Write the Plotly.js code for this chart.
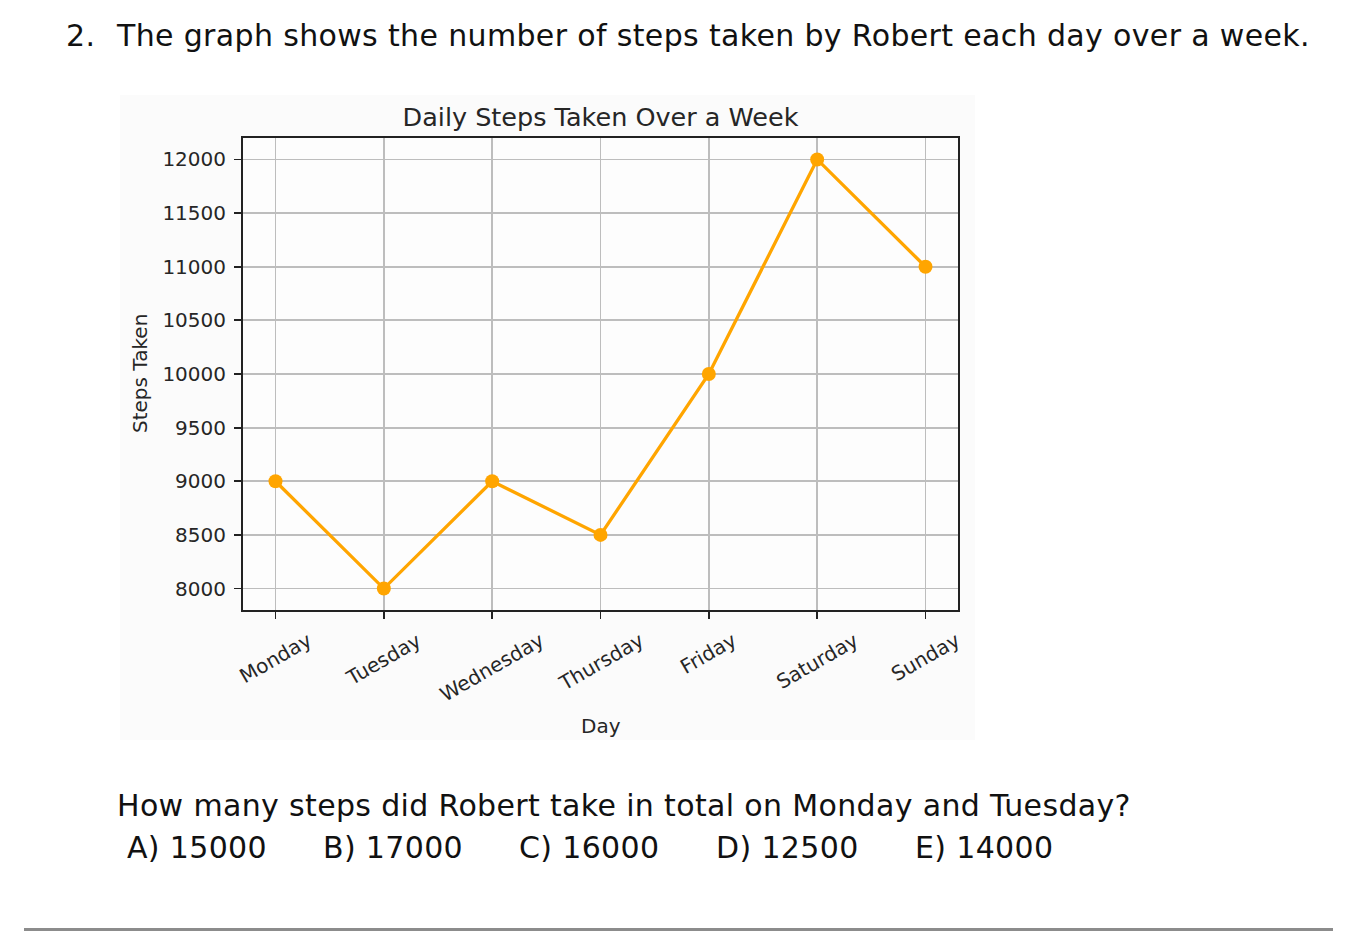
<!DOCTYPE html>
<html>
<head>
<meta charset="utf-8">
<script src="https://cdn.plot.ly/plotly-3.0.1.min.js"></script>
<style>
  html, body { margin: 0; padding: 0; background: #fff; }
  body { width: 1357px; height: 947px; position: relative; overflow: hidden;
         font-family: "DejaVu Sans", Verdana, sans-serif; color: #111; }
  .t { position: absolute; white-space: nowrap; line-height: 30px; font-size: 30px; letter-spacing: 0.35px; }
  #chart { position: absolute; left: 120px; top: 95px; width: 855px; height: 645px; }
  #rule { position: absolute; left: 24px; top: 928px; width: 1309px; height: 3px; background: #8c8c8c; }
</style>
</head>
<body>
<div class="t" style="left:66px; top:21px;">2.</div>
<div class="t" style="left:117px; top:21px;">The graph shows the number of steps taken by Robert each day over a week.</div>

<div id="chart"></div>

<div class="t" style="left:117px; top:791px;">How many steps did Robert take in total on Monday and Tuesday?</div>
<div id="answers"></div>
<div id="rule"></div>

<script>
// data
const days = ['Monday', 'Tuesday', 'Wednesday', 'Thursday', 'Friday', 'Saturday', 'Sunday'];
const steps = [9000, 8000, 9000, 8500, 10000, 12000, 11000];
const yTicks = [8000, 8500, 9000, 9500, 10000, 10500, 11000, 11500, 12000];
const choices = ['A) 15000', 'B) 17000', 'C) 16000', 'D) 12500', 'E) 14000'];
const choiceX = [127, 323, 519, 716, 915];

const ans = document.getElementById('answers');
choices.forEach((c, i) => {
    const d = document.createElement('div');
    d.className = 't';
    d.style.left = choiceX[i] + 'px';
    d.style.top = '833px';
    d.textContent = c;
    ans.appendChild(d);
});

const font = 'DejaVu Sans, sans-serif';
const ink = '#262626';

// rotated day labels, centred under each tick like matplotlib does
const dayLabels = days.map((d) => ({
    x: d, xref: 'x', y: 0, yref: 'paper', yshift: -15,
    xanchor: 'center', yanchor: 'top',
    text: d, textangle: -30, showarrow: false,
    font: { family: font, size: 20, color: ink },
}));

const layout = {
    width: 855, height: 645,
    margin: { l: 123, r: 17, t: 43, b: 130, pad: 0 },
    paper_bgcolor: '#fbfbfb',
    plot_bgcolor: '#fdfdfd',
    showlegend: false,
    title: {
        text: 'Daily Steps Taken Over a Week',
        font: { family: font, size: 25.5, color: ink },
        x: 0.5, xref: 'paper', xanchor: 'center',
        y: 1 - 22 / 645, yref: 'container', yanchor: 'middle',
    },
    xaxis: {
        type: 'category', range: [-0.3, 6.3],
        showgrid: true, gridcolor: '#bdbdbd', gridwidth: 1.8,
        showline: true, linecolor: '#222', linewidth: 2, mirror: true,
        ticks: 'outside', ticklen: 7, tickwidth: 1.8, tickcolor: '#222',
        showticklabels: false, zeroline: false,
    },
    yaxis: {
        range: [7800, 12200], tickvals: yTicks, ticktext: yTicks.map(String),
        showgrid: true, gridcolor: '#bdbdbd', gridwidth: 1.8,
        showline: true, linecolor: '#222', linewidth: 2, mirror: true,
        ticks: 'outside', ticklen: 7, tickwidth: 1.8, tickcolor: '#222',
        ticklabelstandoff: 4,
        tickfont: { family: font, size: 20, color: ink },
        zeroline: false,
    },
    annotations: dayLabels.concat([
        { text: 'Day', xref: 'paper', x: 0.5, yref: 'paper', y: 0, yshift: -116,
          xanchor: 'center', yanchor: 'middle', showarrow: false,
          font: { family: font, size: 20, color: ink } },
        { text: 'Steps Taken', xref: 'paper', x: 0, xshift: -103, yref: 'paper', y: 0.5,
          xanchor: 'center', yanchor: 'middle', textangle: -90, showarrow: false,
          font: { family: font, size: 20, color: ink } },
    ]),
};

const trace = {
    x: days, y: steps, type: 'scatter', mode: 'lines+markers',
    line: { color: '#ffa500', width: 3.3 },
    marker: { color: '#ffa500', size: 14 },
    cliponaxis: false, hoverinfo: 'skip',
};

Plotly.newPlot('chart', [trace], layout, { staticPlot: true });
</script>
</body>
</html>
